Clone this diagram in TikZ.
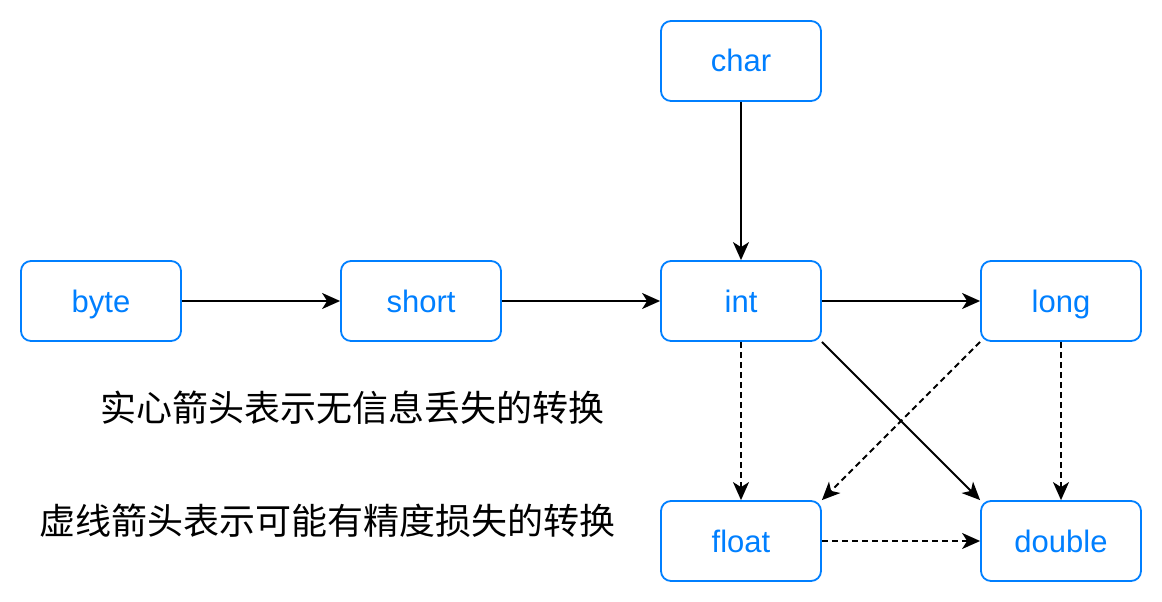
\documentclass[tikz,border=0pt]{standalone}
\usepackage{fontspec}
\setmainfont{Liberation Sans}
\newfontfamily\cjk{Noto Sans CJK SC}
\usetikzlibrary{arrows.meta}
\definecolor{dioblue}{RGB}{0,127,255}
\tikzset{
  box/.style={draw=dioblue, line width=1.8pt, rounded corners=10pt, minimum width=160pt, minimum height=80pt, inner sep=0pt, text height=28pt, text depth=6pt, text=dioblue, font=\fontsize{31}{34}\selectfont},
  conn/.style={line width=1.8pt, -{Stealth[length=18pt,width=16pt,inset=5pt]}},
  dconn/.style={conn, dash pattern=on 6pt off 4pt},
  note/.style={font=\cjk\fontsize{36}{40}\selectfont, inner sep=0pt}
}
\begin{document}
\begin{tikzpicture}[x=1pt,y=-1pt]
\useasboundingbox (0,0) rectangle (1162,602);
\node[box] (byte) at (101,301) {byte};
\node[box] (short) at (421,301) {short};
\node[box] (int) at (741,301) {int};
\node[box] (long) at (1061,301) {long};
\node[box] (char) at (741,61) {char};
\node[box] (float) at (741,541) {float};
\node[box] (double) at (1061,541) {double};
\draw[conn] (byte) -- (short);
\draw[conn] (short) -- (int);
\draw[conn] (int) -- (long);
\draw[conn] (char) -- (int);
\draw[conn] (int.south east) -- (double.north west);
\draw[dconn] (int) -- (float);
\draw[dconn] (long) -- (double);
\draw[dconn] (float) -- (double);
\draw[dconn] (long.south west) -- (float.north east);
\node[note] (n1) at (352,408) {实心箭头表示无信息丢失的转换};
\node[note] (n2) at (327,521) {虚线箭头表示可能有精度损失的转换};
\end{tikzpicture}
\end{document}
